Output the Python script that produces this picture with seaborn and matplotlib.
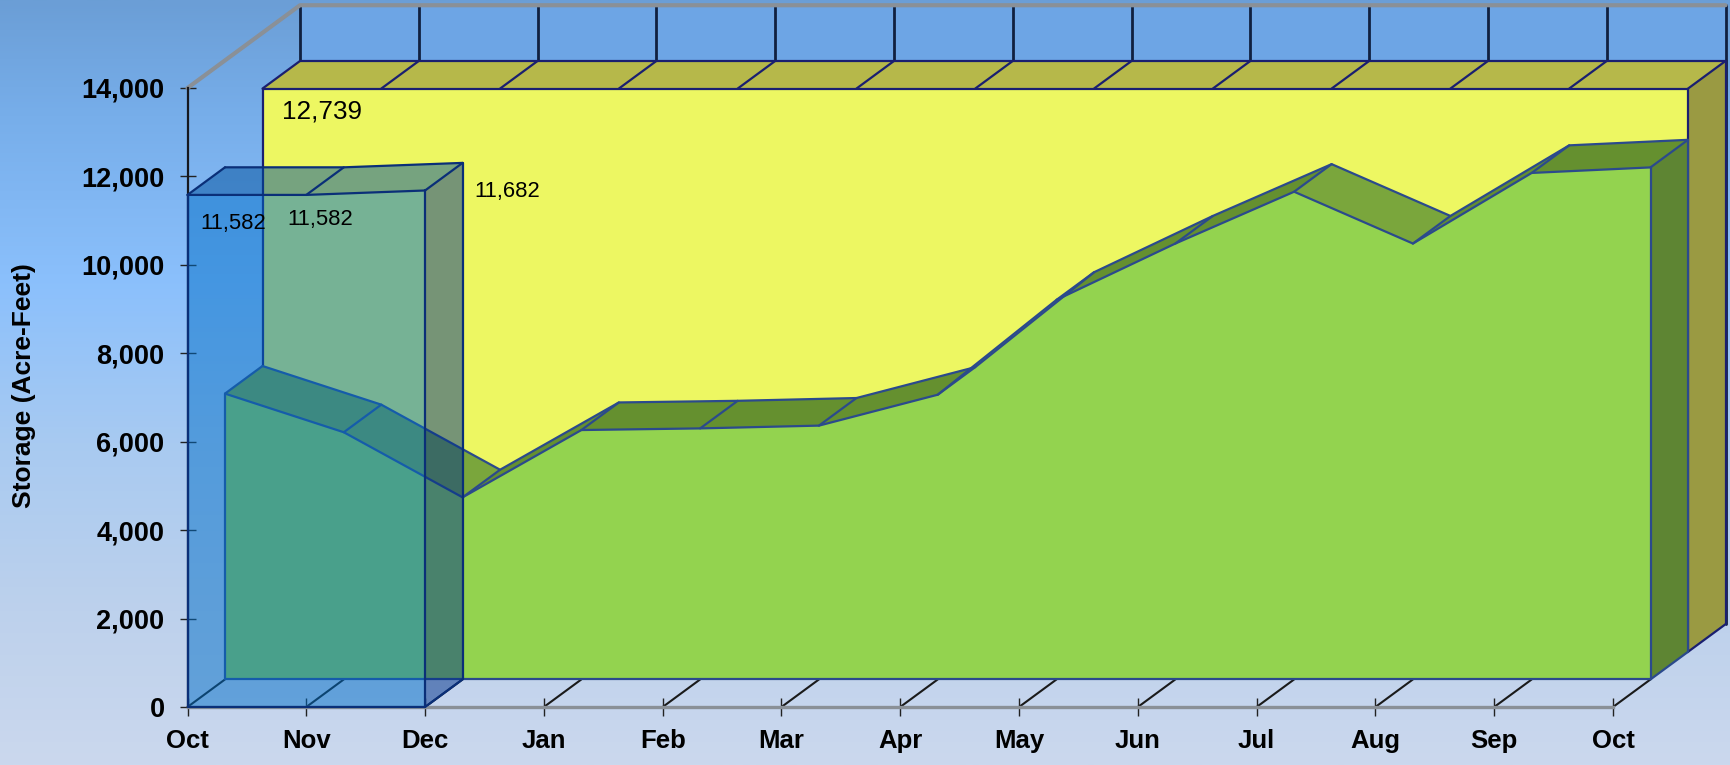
import numpy as np
import pandas as pd
import matplotlib
matplotlib.use("Agg")
import matplotlib.pyplot as plt
from matplotlib.colors import LinearSegmentedColormap
import seaborn as sns

# Values
months = ["Oct", "Nov", "Dec", "Jan", "Feb", "Mar", "Apr", "May", "Jun", "Jul", "Aug", "Sep", "Oct"]
yellow_storage = [12739] * 13
green_storage = [6464, 5590, 4118, 5640, 5677, 5740, 6439, 8585, 9858, 11030, 9858, 11455, 11580]
blue_storage = [11582, 11582, 11682]
y_ticks = [0, 2000, 4000, 6000, 8000, 10000, 12000, 14000]

W, H = 1730, 765
# one layer of fake depth, in data units
DX = 0.3157
DY = 624
YMAX = 14000


def project(x, v, depth):
    return np.asarray(x, dtype=float) + depth * DX, np.asarray(v, dtype=float) + depth * DY


def quad(ax, x0, v0, x1, v1, depth0, depth1, color, z, alpha=None):
    xa, ya = project([x0, x1], [v0, v1], depth0)
    xb, yb = project([x1, x0], [v1, v0], depth1)
    ax.fill(np.r_[xa, xb], np.r_[ya, yb], facecolor=color, edgecolor="none",
            alpha=alpha, zorder=z, clip_on=False)


def stroke(ax, px, py, color, z, lw=1.6):
    df = pd.DataFrame({"x": px, "y": py})
    sns.lineplot(data=df, x="x", y="y", color=color, lw=lw, sort=False, estimator=None,
                 errorbar=None, zorder=z, clip_on=False, ax=ax)


def edge(ax, xs, vs, depth, color, z, lw=1.6):
    px, py = project(xs, vs, depth)
    stroke(ax, px, py, color, z, lw)


def draw_layer(ax, values, depth, front, top_up, top_down, side, line, z, alpha=None):
    # front face, top faces and right side of one extruded area
    n = len(values)
    xs = np.arange(n)
    vals = np.asarray(values, dtype=float)
    for i in range(n - 1):
        c = top_down if vals[i + 1] < vals[i] - 200 else top_up
        quad(ax, xs[i], vals[i], xs[i + 1], vals[i + 1], depth, depth + 1, c, z, alpha=alpha)
    px, py = project(xs, vals, depth)
    bx, by = project([xs[-1], xs[0]], [0, 0], depth)
    ax.fill(np.r_[px, bx], np.r_[py, by], facecolor=front, edgecolor="none", alpha=alpha,
            zorder=z + 0.1, clip_on=False)
    sx0, sy0 = project([xs[-1]] * 2, [vals[-1], 0], depth)
    sx1, sy1 = project([xs[-1]] * 2, [0, vals[-1]], depth + 1)
    ax.fill(np.r_[sx0, sx1], np.r_[sy0, sy1], facecolor=side, edgecolor="none", alpha=alpha,
            zorder=z + 0.2, clip_on=False)
    # outlines
    e_z = z + 0.3
    edge(ax, xs, vals, depth, line, e_z)
    edge(ax, xs, vals, depth + 1, line, e_z)
    edge(ax, [xs[0], xs[-1]], [0, 0], depth, line, e_z)
    edge(ax, [xs[-1], xs[-1]], [0, vals[-1]], depth, line, e_z)
    edge(ax, [xs[-1], xs[-1]], [0, vals[-1]], depth + 1, line, e_z)
    edge(ax, [xs[0], xs[0]], [0, vals[0]], depth, line, e_z)
    for i in range(n):
        x0, y0 = project(xs[i], vals[i], depth)
        x1, y1 = project(xs[i], vals[i], depth + 1)
        stroke(ax, [x0, x1], [y0, y1], line, e_z)
    x0, y0 = project(xs[-1], 0, depth)
    x1, y1 = project(xs[-1], 0, depth + 1)
    stroke(ax, [x0, x1], [y0, y1], line, e_z)


def main():
    sns.set_theme(style="white")
    plt.rcParams["font.family"] = ["Liberation Sans", "DejaVu Sans"]
    fig = plt.figure(figsize=(W / 100, H / 100), dpi=100)

    # page background gradient
    bg = fig.add_axes([0, 0, 1, 1], zorder=0)
    cmap = LinearSegmentedColormap.from_list("page", [
        (0.0, "#6b9ed6"), (0.15, "#77aeea"), (0.37, "#8bc0fc"),
        (0.58, "#a8caf1"), (0.8, "#bdd1ec"), (1.0, "#cbd8ee")])
    bg.imshow(np.linspace(0, 1, 256)[:, None], aspect="auto", cmap=cmap, vmin=0, vmax=1)
    bg.axis("off")

    # axes box matches the front plane of the fake 3D box
    left, right, base, top = 187.5, 1613, 707, 88
    ax = fig.add_axes([left / W, 1 - base / H, (right - left) / W, (base - top) / H], zorder=1)
    ax.patch.set_alpha(0)
    n = len(months)
    xs = np.arange(n)

    # back wall and its month lines
    wx, wy = project([0, n - 1, n - 1, 0], [0, 0, YMAX, YMAX], 3)
    ax.fill(wx, wy, facecolor="#6da5e5", edgecolor="none", zorder=1, clip_on=False)
    for i in xs:
        edge(ax, [i, i], [YMAX, 0], 3, "#10203f", 1.2, lw=2)
    # grey rim of the wall
    rx0, ry0 = project(0, YMAX, 0)
    rx1, ry1 = project([0, n - 1], [YMAX, YMAX], 3)
    stroke(ax, np.r_[rx0, rx1], np.r_[ry0, ry1], "#8a9097", 1.3, lw=3)

    # floor lines
    for i in xs:
        x0, y0 = project(i, 0, 0)
        x1, y1 = project(i, 0, 1)
        stroke(ax, [x0, x1], [y0, y1], "#1a1a1a", 1.5, lw=1.5)

    draw_layer(ax, yellow_storage, 2, "#edf762", "#b6b84a", "#b6b84a", "#9a9a42", "#1a1f70", 2)
    draw_layer(ax, green_storage, 1, "#93d34f", "#65902f", "#7aa63c", "#5e8533", "#2b4a8c", 4)
    draw_layer(ax, blue_storage, 0, "#006ec8", "#00509c", "#00509c", "#00328a", "#0a2f78", 6, alpha=0.5)

    # data labels
    label_font = dict(ha="center", va="center", color="black", textcoords="offset pixels", zorder=10,
                      annotation_clip=False)
    lx, ly = project(0, yellow_storage[0], 2)
    ax.annotate(f"{yellow_storage[0]:,}", (lx, ly), xytext=(59, -23), fontsize=18.8, **label_font)
    for i, off in zip(range(3), [(45.5, -28.7), (13.7, -24.5), (82.5, -1)]):
        ax.annotate(f"{blue_storage[i]:,}", (i, blue_storage[i]), xytext=off, fontsize=15.8, **label_font)

    ax.set_xlim(0, n - 1)
    ax.set_ylim(0, YMAX)
    ax.set_xticks(xs)
    ax.set_xticklabels(months, fontsize=18.5, fontweight="bold", color="black")
    ax.set_yticks(y_ticks)
    ax.set_yticklabels([f"{t:,}" for t in y_ticks], fontsize=19.5, fontweight="bold", color="black")
    ax.tick_params(axis="y", direction="inout", length=11, width=1, color="#222222", pad=11, left=True)
    ax.tick_params(axis="x", direction="inout", length=13, width=1, color="#222222", pad=9, bottom=True)
    ax.set_xlabel("")
    ax.set_ylabel("Storage (Acre-Feet)", fontsize=19, fontweight="bold", color="black", va="center")
    ax.yaxis.set_label_coords((24 - left) / (right - left), (base - 386) / (base - top))

    for s in ["top", "right"]:
        ax.spines[s].set_visible(False)
    ax.spines["left"].set_color("#15181f")
    ax.spines["left"].set_linewidth(1.6)
    ax.spines["bottom"].set_color("#8a9097")
    ax.spines["bottom"].set_linewidth(2.4)

    fig.savefig("out.png", dpi=100)


if __name__ == "__main__":
    main()
